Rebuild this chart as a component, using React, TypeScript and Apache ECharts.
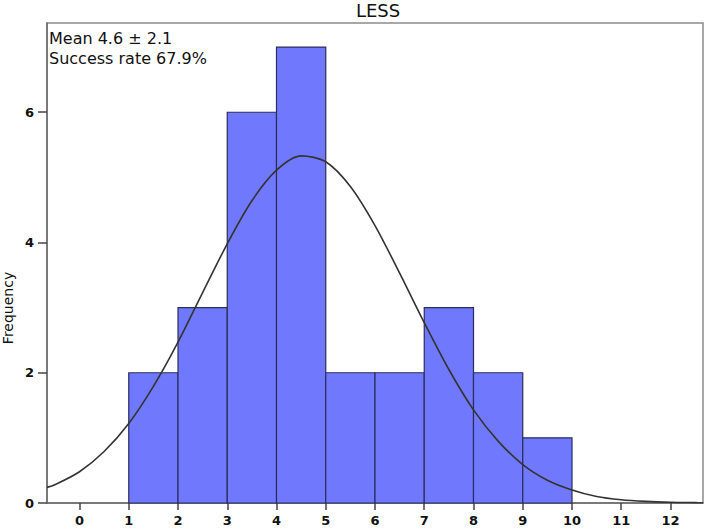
import React, { useEffect, useRef } from "react";
import * as echarts from "echarts";

// Histogram data
const binStarts = [1, 2, 3, 4, 5, 6, 7, 8, 9];
const binWidth = 1;
const counts = [2, 3, 6, 7, 2, 2, 3, 2, 1];

// Fitted normal curve
const curveX = [-0.66, -0.5, 0, 0.5, 1, 1.5, 2, 2.5, 3, 3.5, 4, 4.5, 5, 5.5, 6, 6.5, 7, 7.5, 8, 8.5, 9, 9.5, 10, 10.5, 11, 11.5, 12, 12.5, 12.66];
const curveY = [0.24, 0.28, 0.48, 0.79, 1.22, 1.79, 2.47, 3.23, 3.98, 4.64, 5.11, 5.33, 5.24, 4.86, 4.26, 3.53, 2.77, 2.05, 1.43, 0.95, 0.59, 0.35, 0.2, 0.1, 0.05, 0.025, 0.011, 0.005, 0.003];

const xTicks = [0, 1, 2, 3, 4, 5, 6, 7, 8, 9, 10, 11, 12];
const yTicks = [0, 2, 4, 6];

const titleText = "LESS";
const yAxisTitle = "Frequency";
const noteLines = ["Mean 4.6 \u00b1 2.1", "Success rate 67.9%"];

const FONT = "DejaVu Sans, Verdana, sans-serif";

export default function App() {
  const ref = useRef<HTMLDivElement>(null);
  useEffect(() => {
    if (!ref.current) return;
    const chart = echarts.init(ref.current, null, { renderer: "svg" });
    const histData = binStarts.map((s, i) => [s, s + binWidth, counts[i]]);
    const lineData = curveX.map((x, i) => [x, curveY[i]]);
    chart.setOption({
      animation: false,
      backgroundColor: "#ffffff",
      textStyle: { fontFamily: FONT },
      grid: {
        left: 47,
        right: 2,
        top: 23,
        bottom: 26,
        show: true,
        borderColor: "#8c8c8c",
        borderWidth: 1.5,
        backgroundColor: "transparent",
      },
      xAxis: {
        type: "value",
        min: -0.66,
        max: 12.66,
        splitLine: { show: false },
        axisLine: { show: true, onZero: false, lineStyle: { color: "#6a6a6a", width: 1.5 } },
        axisTick: { show: true, length: 7, customValues: xTicks, lineStyle: { color: "#444", width: 1.5 } },
        axisLabel: { customValues: xTicks, color: "#111", fontSize: 13, fontWeight: "bold", fontFamily: FONT, margin: 11 },
      },
      yAxis: {
        type: "value",
        min: 0,
        max: 7.37,
        splitLine: { show: false },
        axisLine: { show: true, onZero: false, lineStyle: { color: "#6a6a6a", width: 1.5 } },
        axisTick: { show: true, length: 9, customValues: yTicks, lineStyle: { color: "#444", width: 1.5 } },
        axisLabel: { customValues: yTicks, color: "#111", fontSize: 13, fontWeight: "bold", fontFamily: FONT, margin: 13 },
      },
      graphic: [
        {
          type: "text",
          x: 378,
          y: 10,
          style: { text: titleText, font: `18px ${FONT}`, fill: "#111", textAlign: "center", textVerticalAlign: "middle" },
        },
        {
          type: "text",
          x: 8,
          y: 308,
          rotation: Math.PI / 2,
          style: { text: yAxisTitle, font: `14px ${FONT}`, fill: "#111", textAlign: "center", textVerticalAlign: "middle" },
        },
        {
          type: "text",
          x: 49,
          y: 38,
          style: { text: noteLines[0], font: `16px ${FONT}`, fill: "#111", textAlign: "left", textVerticalAlign: "middle" },
        },
        {
          type: "text",
          x: 49,
          y: 58,
          style: { text: noteLines[1], font: `16px ${FONT}`, fill: "#111", textAlign: "left", textVerticalAlign: "middle" },
        },
      ],
      series: [
        {
          type: "custom",
          data: histData,
          encode: { x: [0, 1], y: 2 },
          renderItem: (params: any, api: any) => {
            const p0 = api.coord([api.value(0), 0]);
            const p1 = api.coord([api.value(1), api.value(2)]);
            return {
              type: "rect",
              shape: { x: p0[0], y: p1[1], width: p1[0] - p0[0], height: p0[1] - p1[1] },
              style: { fill: "#7078fe", stroke: "#2b2d5e", lineWidth: 1.2 },
            };
          },
          z: 2,
        },
        {
          type: "line",
          data: lineData,
          smooth: 0.3,
          showSymbol: false,
          lineStyle: { color: "#333333", width: 1.6 },
          z: 3,
        },
      ],
    });
    return () => chart.dispose();
  }, []);
  return (
    <div
      ref={ref}
      style={{ position: "fixed", left: 0, top: 0, width: 705, height: 529, background: "#fff" }}
    />
  );
}
